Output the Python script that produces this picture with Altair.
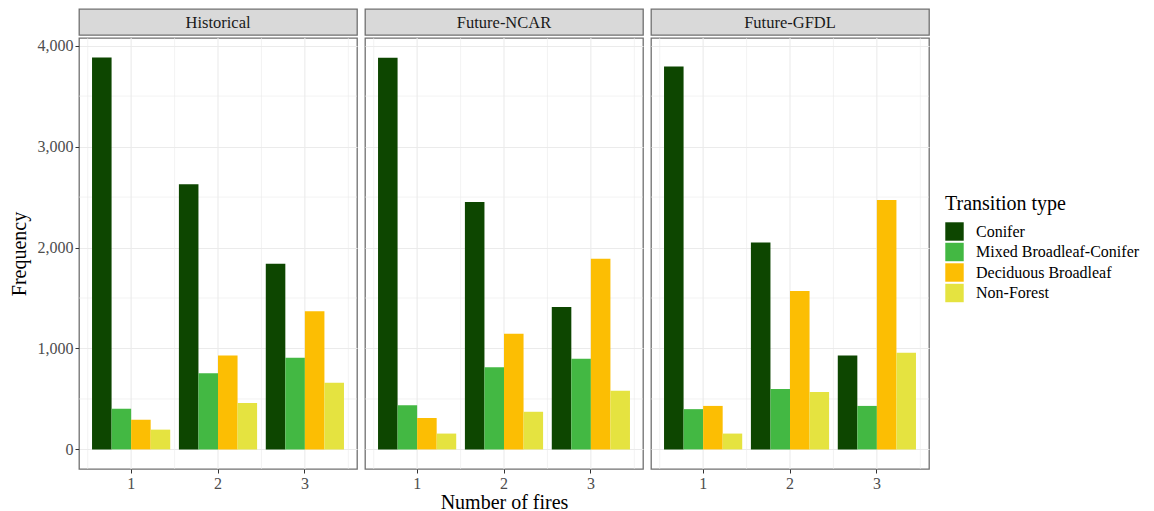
import altair as alt
import pandas as pd

scenarios = ["Historical", "Future-NCAR", "Future-GFDL"]
types = ["Conifer", "Mixed Broadleaf-Conifer", "Deciduous Broadleaf", "Non-Forest"]
colors = ["#0D4600", "#43B843", "#FCBE03", "#E5E340"]
fires = [1, 2, 3]

# values per scenario, per type, for fires 1,2,3
hist_conifer = [3882, 2627, 1840]
hist_mixed = [403, 755, 909]
hist_decid = [294, 931, 1370]
hist_nonforest = [196, 461, 660]

ncar_conifer = [3880, 2451, 1412]
ncar_mixed = [438, 814, 899]
ncar_decid = [311, 1147, 1889]
ncar_nonforest = [157, 373, 581]

gfdl_conifer = [3794, 2049, 931]
gfdl_mixed = [399, 598, 431]
gfdl_decid = [431, 1569, 2471]
gfdl_nonforest = [157, 569, 958]

y_ticks = [0, 1000, 2000, 3000, 4000]
y_minor = [500, 1500, 2500, 3500]
x_grid = [0.5, 1, 1.5, 2, 2.5, 3, 3.5]

series = {
    "Historical": [hist_conifer, hist_mixed, hist_decid, hist_nonforest],
    "Future-NCAR": [ncar_conifer, ncar_mixed, ncar_decid, ncar_nonforest],
    "Future-GFDL": [gfdl_conifer, gfdl_mixed, gfdl_decid, gfdl_nonforest],
}
rows = []
for scn in scenarios:
    for t, vals in zip(types, series[scn]):
        for f, v in zip(fires, vals):
            rows.append({"scenario": scn, "type": t, "fires": f, "freq": v})
df = pd.DataFrame(rows)

FONT = "Liberation Serif"
PW, PH, SH = 278, 431, 26
BORDER = "#707070"
GRID = "#EBEBEB"

yscale = alt.Scale(domain=[-194, 4076], nice=False, zero=False)
color = alt.Color("type:N", sort=types,
                  scale=alt.Scale(domain=types, range=colors),
                  legend=alt.Legend(title="Transition type", orient="none",
                                    legendX=866, legendY=185))


def panel(scn, first, middle):
    if first:
        yaxis = alt.Axis(values=y_ticks, format=",.0f", title="Frequency", grid=True, gridColor=GRID,
                         gridWidth=1.1, domain=False, tickColor="#333333", tickSize=4,
                         labelFontSize=16, labelColor="#4D4D4D", labelFont=FONT, labelPadding=2,
                         titleFont=FONT, titleFontSize=20, titleFontWeight="normal",
                         titleColor="#000000", titlePadding=8)
    else:
        yaxis = alt.Axis(values=y_ticks, title=None, grid=True, gridColor=GRID, gridWidth=1.1,
                         domain=False, ticks=False, labels=False)
    vgrid = alt.Chart(pd.DataFrame({"gx": x_grid, "major": [0, 1, 0, 1, 0, 1, 0]})).mark_rule(
        color=GRID).encode(
        x=alt.X("gx:Q", scale=alt.Scale(domain=[0.4, 3.6], nice=False, zero=False), axis=None),
        strokeWidth=alt.StrokeWidth("major:N", scale=alt.Scale(domain=[0, 1], range=[0.6, 1.1]), legend=None),
    )
    hgrid = alt.Chart(pd.DataFrame({"gy": y_minor})).mark_rule(color=GRID, strokeWidth=0.6).encode(
        y=alt.Y("gy:Q", scale=yscale, axis=yaxis)
    )
    xaxis = alt.Axis(title="Number of fires" if middle else None, labelAngle=0, domain=False,
                     tickColor="#333333", tickSize=4, bandPosition=0.5,
                     labelFontSize=16, labelColor="#4D4D4D", labelFont=FONT, labelPadding=2,
                     titleFont=FONT, titleFontSize=20, titleFontWeight="normal",
                     titleColor="#000000", titlePadding=1)
    bars = alt.Chart(df).transform_filter(alt.datum.scenario == scn).mark_bar().encode(
        x=alt.X("fires:N", scale=alt.Scale(paddingInner=0.1, paddingOuter=0.15), axis=xaxis),
        xOffset=alt.XOffset("type:N", sort=types, scale=alt.Scale(domain=types, paddingInner=0, paddingOuter=0)),
        y=alt.Y("freq:Q", scale=yscale, axis=yaxis),
        color=color,
    )
    body = alt.layer(vgrid, hgrid, bars).resolve_scale(x="independent", strokeWidth="independent").properties(
        width=PW, height=PH, view=alt.ViewBackground(fill="white", stroke=BORDER, strokeWidth=1.3))
    strip = alt.Chart(pd.DataFrame({"label": [scn]})).mark_text(
        font=FONT, fontSize=16.5, color="#1A1A1A", baseline="middle", align="center").encode(
        text="label:N", x=alt.value(PW / 2), y=alt.value(SH / 2 + 1)
    ).properties(width=PW, height=SH,
                 view=alt.ViewBackground(fill="#D9D9D9", stroke=BORDER, strokeWidth=1.3))
    return alt.vconcat(strip, body, spacing=0)


chart = alt.hconcat(
    panel("Historical", True, False),
    panel("Future-NCAR", False, True),
    panel("Future-GFDL", False, False),
    spacing=6,
).properties(
    padding={"left": 0, "top": 0, "right": 0, "bottom": 0},
    background="white",
).configure_legend(
    titleFont=FONT, titleFontSize=20, titleFontWeight="normal", titleColor="#000000",
    titlePadding=8, labelFont=FONT, labelFontSize=16, labelColor="#000000", labelLimit=0,
    symbolType="square", symbolSize=340, symbolStrokeWidth=0, symbolOpacity=1,
    rowPadding=1.5, labelOffset=12,
).configure_view(stroke=BORDER)

chart.save("out.html", embed_options={"renderer": "svg", "actions": False})
